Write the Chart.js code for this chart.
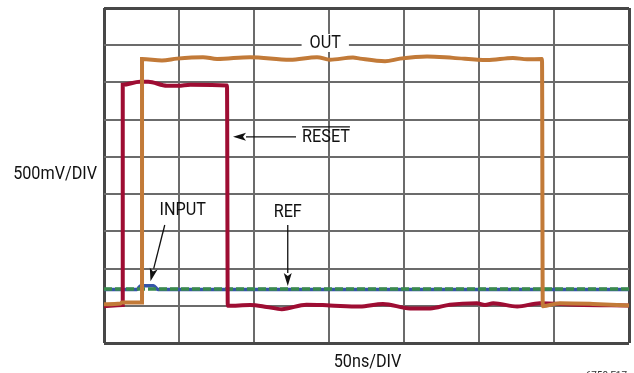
<!DOCTYPE html>
<html>
<head>
<meta charset="utf-8">
<script src="https://cdn.jsdelivr.net/npm/chart.js@4.4.1/dist/chart.umd.min.js"></script>
<style>
  html, body { margin: 0; padding: 0; background: #fff; }
  #wrap { width: 634px; height: 373px; position: relative; }
</style>
</head>
<body>
<div id="wrap"><canvas id="scope"></canvas></div>
<script>
// time in divisions (50ns/DIV), level in divisions (500mV/DIV)
const outX = [0, 0.22, 0.24, 0.507, 0.507, 0.773, 0.973, 1.32, 1.507, 1.947, 2.48, 2.84, 3.013, 3.32, 3.413, 3.747, 3.947, 4.307, 4.653, 5.107, 5.453, 5.64, 5.84, 5.85, 6.08, 6.52, 7];
const outY = [1.04, 1.06, 1.09, 1.09, 7.63, 7.59, 7.64, 7.68, 7.63, 7.68, 7.61, 7.68, 7.61, 7.67, 7.64, 7.57, 7.64, 7.70, 7.66, 7.60, 7.66, 7.62, 7.63, 0.99, 1.07, 1.05, 1.01];

const resetX = [0, 0.25, 0.25, 0.48, 0.59, 0.84, 0.99, 1.15, 1.64, 1.65, 1.95, 2.17, 2.37, 2.7, 3.01, 3.41, 3.72, 4.08, 4.35, 4.61, 4.97, 5.08, 5.19, 5.51, 5.81, 6.3, 7];
const resetY = [0.99, 1.02, 6.94, 7.02, 7.02, 6.91, 6.91, 6.94, 6.92, 1.0, 1.02, 0.97, 0.91, 1.03, 1.01, 0.98, 1.05, 0.93, 0.93, 1.03, 1.07, 1.02, 1.07, 0.98, 1.07, 1.03, 1.01];

const inputX = [0, 0.44, 0.49, 0.66, 0.72, 7];
const inputY = [1.44, 1.44, 1.54, 1.54, 1.44, 1.44];

const refX = [0, 7];
const refY = [1.45, 1.45];

const xDivs = 7;
const yDivs = 9;

// annotation text and arrows, positioned in division units
const labels = [
  { text: "OUT", x: 2.95, y: 8.06, box: true },
  { text: "RESET", x: 2.96, y: 5.54, overline: true },
  { text: "INPUT", x: 1.05, y: 3.58 },
  { text: "REF", x: 2.45, y: 3.52 }
];
const arrows = [
  { from: [2.56, 5.54], to: [1.72, 5.54] },
  { from: [0.81, 3.17], to: [0.62, 1.66] },
  { from: [2.45, 3.17], to: [2.45, 1.53] }
];

const FONT = '"Roboto", "Liberation Sans", sans-serif';
const SQUEEZE = 0.9; // the original lettering is a condensed face

function pts(xs, ys) {
  return xs.map((x, i) => ({ x: x, y: ys[i] }));
}

function narrowText(ctx, text, x, y, align) {
  ctx.save();
  ctx.translate(x, y);
  ctx.scale(SQUEEZE, 1);
  ctx.textAlign = align;
  ctx.fillText(text, 0, 0);
  ctx.restore();
}

const annotate = {
  id: "annotate",
  afterDatasetsDraw(chart) {
    const { ctx, chartArea, scales } = chart;
    const sx = (v) => scales.x.getPixelForValue(v);
    const sy = (v) => scales.y.getPixelForValue(v);
    ctx.save();
    ctx.fillStyle = "#111";
    ctx.strokeStyle = "#111";
    ctx.textBaseline = "middle";
    ctx.font = "18px " + FONT;

    labels.forEach((l) => {
      const px = sx(l.x);
      const py = sy(l.y);
      const w = ctx.measureText(l.text).width * SQUEEZE;
      if (l.box) {
        ctx.fillStyle = "#fff";
        ctx.fillRect(px - w / 2 - 8, py - 9, w + 16, 18);
        ctx.fillStyle = "#111";
      }
      narrowText(ctx, l.text, px, py + 1, "center");
      if (l.overline) {
        ctx.lineWidth = 1.2;
        ctx.beginPath();
        ctx.moveTo(px - w / 2, py - 10);
        ctx.lineTo(px + w / 2, py - 10);
        ctx.stroke();
      }
    });

    arrows.forEach((a) => {
      const x0 = sx(a.from[0]), y0 = sy(a.from[1]);
      const x1 = sx(a.to[0]), y1 = sy(a.to[1]);
      const ang = Math.atan2(y1 - y0, x1 - x0);
      const len = 13, half = 4;
      const bx = x1 - len * Math.cos(ang);
      const by = y1 - len * Math.sin(ang);
      ctx.lineWidth = 1.3;
      ctx.beginPath();
      ctx.moveTo(x0, y0);
      ctx.lineTo(bx, by);
      ctx.stroke();
      ctx.beginPath();
      ctx.moveTo(x1, y1);
      ctx.lineTo(bx + half * Math.sin(ang), by - half * Math.cos(ang));
      ctx.lineTo(bx + 3 * Math.cos(ang), by + 3 * Math.sin(ang));
      ctx.lineTo(bx - half * Math.sin(ang), by + half * Math.cos(ang));
      ctx.closePath();
      ctx.fill();
    });

    // axis captions
    narrowText(ctx, "500mV/DIV", chartArea.left - 7, (chartArea.top + chartArea.bottom) / 2 - 1, "right");
    narrowText(ctx, "50ns/DIV", (chartArea.left + chartArea.right) / 2 + 1, chartArea.bottom + 19, "center");
    ctx.font = "11px " + FONT;
    ctx.fillStyle = "#333";
    narrowText(ctx, "6758 F17", chartArea.right - 2, chartArea.bottom + 33, "right");
    ctx.restore();
  }
};

const edge = (n) => (c) => (c.index === 0 || c.index === n ? 3 : 2);
const edgeColor = (n) => (c) => (c.index === 0 || c.index === n ? "#474747" : "#6b6b6b");

new Chart(document.getElementById("scope"), {
  type: "line",
  data: {
    datasets: [
      {
        label: "OUT",
        data: pts(outX, outY),
        borderColor: "#c27a38",
        borderWidth: 4,
        cubicInterpolationMode: "monotone",
        order: 0
      },
      {
        label: "RESET",
        data: pts(resetX, resetY),
        borderColor: "#9e0d33",
        borderWidth: 4,
        cubicInterpolationMode: "monotone",
        order: 1
      },
      {
        label: "REF",
        data: pts(refX, refY),
        borderColor: "#3a8a4c",
        borderWidth: 3.5,
        borderDash: [8, 3],
        order: 2
      },
      {
        label: "INPUT",
        data: pts(inputX, inputY),
        borderColor: "#3555a8",
        borderWidth: 3.5,
        cubicInterpolationMode: "monotone",
        order: 3
      }
    ]
  },
  options: {
    responsive: true,
    maintainAspectRatio: false,
    animation: false,
    events: [],
    layout: { padding: { left: 104, right: 5, top: 8, bottom: 30 } },
    elements: {
      line: { tension: 0, fill: false },
      point: { radius: 0, hoverRadius: 0 }
    },
    scales: {
      x: {
        type: "linear",
        min: 0,
        max: xDivs,
        ticks: { display: false, stepSize: 1 },
        border: { display: false },
        grid: { drawTicks: false, lineWidth: edge(xDivs), color: edgeColor(xDivs) }
      },
      y: {
        type: "linear",
        min: 0,
        max: yDivs,
        ticks: { display: false, stepSize: 1 },
        border: { display: false },
        grid: { drawTicks: false, lineWidth: edge(yDivs), color: edgeColor(yDivs) }
      }
    },
    plugins: {
      legend: { display: false },
      tooltip: { enabled: false }
    }
  },
  plugins: [annotate]
});
</script>
</body>
</html>
